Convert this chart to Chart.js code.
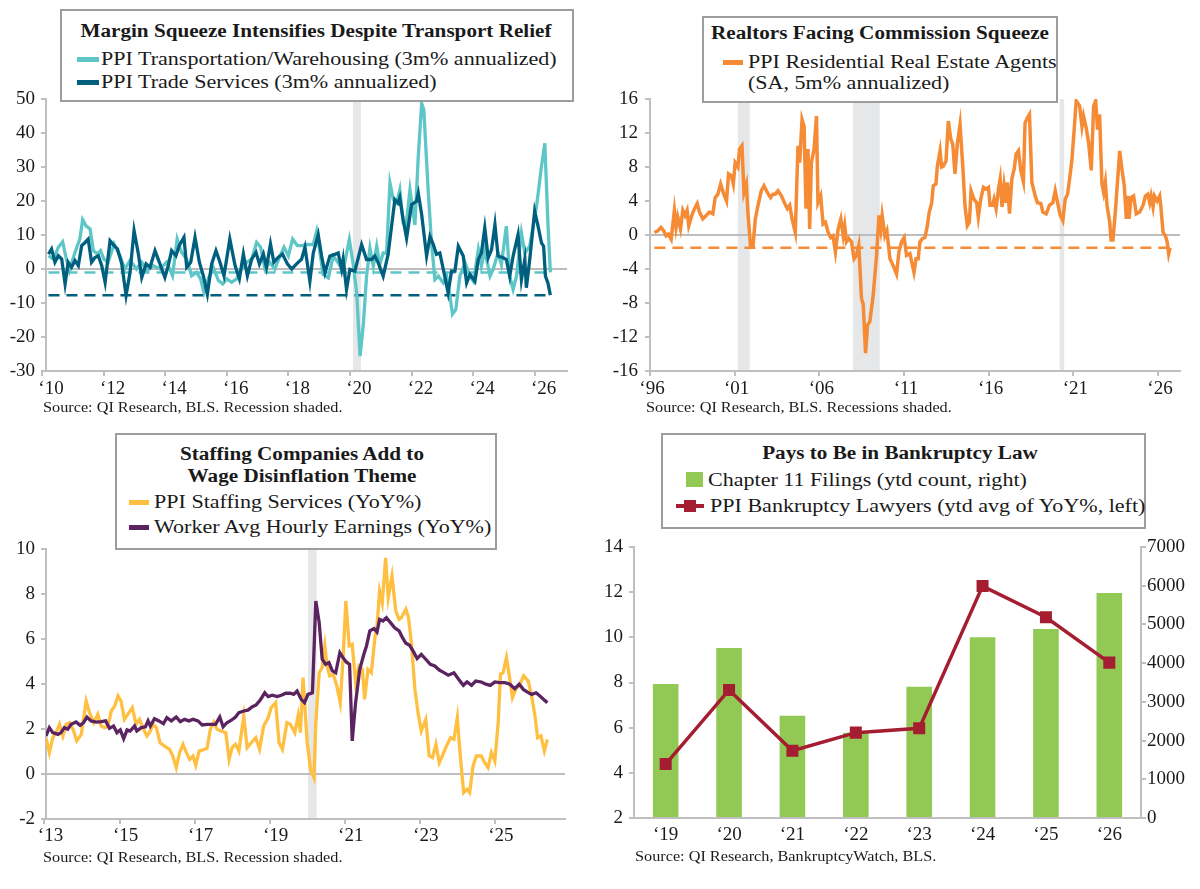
<!doctype html>
<html>
<head>
<meta charset="utf-8">
<title>PPI margin squeeze panels</title>
<script src="https://cdn.jsdelivr.net/npm/chart.js@4.4.1/dist/chart.umd.min.js"></script>
<style>
  body { margin: 0; background: #fff; }
  #page { position: relative; width: 1200px; height: 889px; overflow: hidden; background: #fff;
          font-family: "Liberation Serif", "Times New Roman", serif; color: #1a1a1a; }
  canvas { position: absolute; }
  .box { position: absolute; background: #fff; border: 2px solid #9d9d9d; box-sizing: border-box; }
  .t { position: absolute; white-space: nowrap; line-height: 1; font-size: 19.7px;
       transform-origin: left center; transform: translateY(-50%) scaleX(1.12); }
  .t.c { transform-origin: center center; transform: translate(-50%, -50%) scaleX(1.12); }
  .t.b { font-weight: bold; font-size: 18.9px; }
  .t.s { font-size: 14.5px; }
  .sw { position: absolute; }
</style>
</head>
<body>
<div id="page">
  <canvas id="c1" width="600" height="400" style="left:0;top:0"></canvas>
  <canvas id="c2" width="600" height="400" style="left:600px;top:0"></canvas>
  <canvas id="c3" width="600" height="430" style="left:0;top:430px"></canvas>
  <canvas id="c4" width="600" height="430" style="left:600px;top:430px"></canvas>

  <!-- panel 1 -->
  <div class="box" style="left:60px;top:9px;width:514px;height:93px"></div>
  <div class="t c b" style="left:316px;top:31px">Margin Squeeze Intensifies Despite Transport Relief</div>
  <div class="sw" style="left:77px;top:57px;width:22px;height:5px;background:#5ec6c7"></div>
  <div class="t" style="left:101px;top:59px">PPI Transportation/Warehousing (3m% annualized)</div>
  <div class="sw" style="left:77px;top:80px;width:22px;height:5px;background:#005f7e"></div>
  <div class="t" style="left:101px;top:82px">PPI Trade Services (3m% annualized)</div>
  <div class="t s" style="left:43px;top:407px">Source: QI Research, BLS. Recession shaded.</div>

  <!-- panel 2 -->
  <div class="box" style="left:702px;top:16px;width:356px;height:87px"></div>
  <div class="t c b" style="left:880px;top:33px">Realtors Facing Commission Squeeze</div>
  <div class="sw" style="left:723px;top:60px;width:20px;height:5px;background:#f68b35"></div>
  <div class="t" style="left:748px;top:62px">PPI Residential Real Estate Agents</div>
  <div class="t" style="left:748px;top:83px">(SA, 5m% annualized)</div>
  <div class="t s" style="left:646px;top:407px">Source: QI Research, BLS. Recessions shaded.</div>

  <!-- panel 3 -->
  <div class="box" style="left:115px;top:433px;width:382px;height:117px"></div>
  <div class="t c b" style="left:302px;top:454px">Staffing Companies Add to</div>
  <div class="t c b" style="left:302px;top:476px">Wage Disinflation Theme</div>
  <div class="sw" style="left:129px;top:500px;width:20px;height:5px;background:#ffbf40"></div>
  <div class="t" style="left:154px;top:502px">PPI Staffing Services (YoY%)</div>
  <div class="sw" style="left:129px;top:525px;width:20px;height:5px;background:#5b2461"></div>
  <div class="t" style="left:154px;top:527px">Worker Avg Hourly Earnings (YoY%)</div>
  <div class="t s" style="left:43px;top:857px">Source: QI Research, BLS. Recession shaded.</div>

  <!-- panel 4 -->
  <div class="box" style="left:661px;top:433px;width:485px;height:96px"></div>
  <div class="t c b" style="left:900px;top:453px">Pays to Be in Bankruptcy Law</div>
  <div class="sw" style="left:686px;top:472px;width:17px;height:15px;background:#92c955"></div>
  <div class="t" style="left:708px;top:480px">Chapter 11 Filings (ytd count, right)</div>
  <div class="sw" style="left:676px;top:504px;width:28px;height:4px;background:#a51d31"></div>
  <div class="sw" style="left:684px;top:500px;width:12px;height:12px;background:#a51d31"></div>
  <div class="t" style="left:710px;top:506px">PPI Bankruptcy Lawyers (ytd avg of YoY%, left)</div>
  <div class="t s" style="left:635px;top:856px">Source: QI Research, BankruptcyWatch, BLS.</div>
</div>

<script>
// ---- data: [decimal year, value] ----
var transportPpi = [[2010.21,3.9],[2010.37,2.9],[2010.53,6.4],[2010.67,8.0],[2010.78,3.4],[2010.89,-0.5],[2011.00,2.9],[2011.13,6.4],[2011.23,8.8],[2011.32,14.5],[2011.43,12.7],[2011.56,11.8],[2011.67,5.4],[2011.80,4.4],[2011.90,5.4],[2012.01,2.9],[2012.15,2.0],[2012.34,7.4],[2012.53,3.9],[2012.69,0],[2012.86,2.5],[2013.07,0],[2013.24,2.0],[2013.40,-0.5],[2013.61,1.0],[2013.83,0],[2014.05,2.0],[2014.24,-2.0],[2014.39,8.8],[2014.53,4.9],[2014.70,2.9],[2014.86,-2.0],[2015.02,-1.0],[2015.15,-2.9],[2015.26,-6.9],[2015.40,-2.9],[2015.56,0.5],[2015.73,-3.4],[2015.87,-4.4],[2016.00,-2.9],[2016.16,-3.9],[2016.32,-2.9],[2016.48,0],[2016.65,2.0],[2016.81,2.9],[2016.97,7.8],[2017.10,6.4],[2017.24,0],[2017.40,2.0],[2017.56,0],[2017.71,3.4],[2017.86,6.4],[2018.00,3.9],[2018.14,8.8],[2018.29,6.9],[2018.43,6.9],[2018.59,7.2],[2018.81,7.2],[2018.92,11.1],[2019.03,4.7],[2019.13,-1.6],[2019.30,-2.6],[2019.46,3.8],[2019.62,1.8],[2019.78,-0.6],[2019.98,8.7],[2020.10,1.8],[2020.22,-7.0],[2020.33,-25.6],[2020.44,-15.8],[2020.54,-2.1],[2020.65,6.2],[2020.76,0.8],[2020.87,6.7],[2020.97,1.3],[2021.08,4.7],[2021.19,4.7],[2021.30,25.3],[2021.41,20.4],[2021.52,19.4],[2021.62,23.3],[2021.73,13.5],[2021.82,12.5],[2021.95,23.3],[2022.11,13.0],[2022.22,33.1],[2022.33,48.7],[2022.40,46.8],[2022.54,23.3],[2022.65,7.7],[2022.76,-3.1],[2022.87,-2.1],[2023.03,-4.1],[2023.14,-2.1],[2023.25,-8.0],[2023.33,-13.3],[2023.44,-11.9],[2023.57,-2.1],[2023.74,1.8],[2023.90,-2.1],[2024.01,-3.6],[2024.17,5.7],[2024.27,0.8],[2024.38,5.7],[2024.55,-2.1],[2024.65,-0.1],[2024.81,4.7],[2024.92,1.3],[2025.08,12.6],[2025.19,-2.1],[2025.30,-6.0],[2025.41,-2.1],[2025.57,10.6],[2025.68,4.7],[2025.84,6.7],[2026.06,18.4],[2026.22,30.1],[2026.33,37.0],[2026.43,13.5],[2026.51,-1.0]];

var tradePpi = [[2010.21,4.4],[2010.31,5.9],[2010.42,2.0],[2010.53,3.9],[2010.64,2.9],[2010.75,-4.4],[2010.85,2.0],[2010.96,0.5],[2011.07,2.5],[2011.18,1.0],[2011.29,6.9],[2011.40,7.8],[2011.50,8.8],[2011.61,2.0],[2011.72,3.4],[2011.83,3.9],[2011.94,1.0],[2012.05,-3.9],[2012.21,8.3],[2012.34,6.9],[2012.45,5.9],[2012.59,1.5],[2012.73,-7.8],[2012.86,-1.0],[2012.99,11.3],[2013.13,4.4],[2013.24,-2.5],[2013.38,1.5],[2013.51,0.5],[2013.67,5.4],[2013.83,1.5],[2013.99,-2.5],[2014.10,1.0],[2014.21,5.4],[2014.35,3.9],[2014.46,6.9],[2014.61,9.3],[2014.70,0.5],[2014.83,2.0],[2014.97,9.3],[2015.11,2.0],[2015.24,-2.0],[2015.37,-7.4],[2015.51,1.5],[2015.65,5.4],[2015.78,2.0],[2015.91,-2.0],[2016.10,8.8],[2016.27,1.0],[2016.41,-2.9],[2016.54,4.4],[2016.67,-2.0],[2016.81,2.9],[2016.95,4.9],[2017.06,1.5],[2017.19,4.4],[2017.29,0.5],[2017.42,7.4],[2017.53,2.0],[2017.67,3.4],[2017.81,4.4],[2017.97,1.5],[2018.11,0],[2018.27,1.5],[2018.43,2.9],[2018.54,6.4],[2018.70,-3.6],[2018.81,4.7],[2018.97,10.1],[2019.08,3.8],[2019.19,-1.1],[2019.35,3.8],[2019.51,4.3],[2019.62,4.7],[2019.73,-0.1],[2019.78,2.8],[2019.89,-6.0],[2020.00,-0.1],[2020.16,-0.6],[2020.38,7.2],[2020.54,2.8],[2020.70,2.8],[2020.81,3.8],[2020.92,1.8],[2021.08,-2.1],[2021.24,4.3],[2021.46,20.4],[2021.57,19.4],[2021.62,20.9],[2021.73,14.5],[2021.84,9.1],[2022.00,18.9],[2022.16,19.9],[2022.22,22.3],[2022.33,16.0],[2022.49,3.8],[2022.60,9.6],[2022.71,7.2],[2022.81,4.3],[2022.92,4.7],[2023.08,-2.1],[2023.19,-7.0],[2023.30,-0.6],[2023.41,-0.6],[2023.52,6.7],[2023.68,3.8],[2023.79,-4.1],[2023.90,-1.6],[2024.06,-3.6],[2024.17,2.8],[2024.27,4.7],[2024.38,12.1],[2024.49,3.3],[2024.60,5.7],[2024.71,13.1],[2024.81,3.8],[2024.98,3.3],[2025.08,2.8],[2025.19,-2.1],[2025.30,3.8],[2025.46,10.1],[2025.57,-3.1],[2025.68,2.8],[2025.73,-5.5],[2025.84,2.8],[2026.00,17.0],[2026.11,12.6],[2026.22,7.7],[2026.29,6.7],[2026.35,-2.1],[2026.43,-4.1],[2026.51,-7.7]];

var realtorPpi = [[1996.26,0.3],[1996.46,0.5],[1996.65,0.9],[1996.81,0.5],[1996.95,-0.1],[1997.09,0.1],[1997.25,-0.5],[1997.44,2.9],[1997.54,0.9],[1997.64,2.1],[1997.80,0.7],[1997.94,2.9],[1998.07,2.3],[1998.19,2.9],[1998.29,1.1],[1998.47,2.3],[1998.63,3.1],[1998.79,3.7],[1998.92,2.7],[1999.12,1.9],[1999.32,2.3],[1999.51,2.7],[1999.71,2.5],[1999.85,4.4],[2000.01,4.8],[2000.17,6.0],[2000.36,4.8],[2000.52,4.0],[2000.64,7.2],[2000.80,7.0],[2000.92,6.0],[2001.03,8.5],[2001.19,8.0],[2001.29,10.1],[2001.43,10.5],[2001.55,5.0],[2001.69,6.0],[2001.78,2.7],[2001.94,-1.4],[2002.08,-1.4],[2002.22,1.9],[2002.38,3.5],[2002.57,5.2],[2002.73,5.8],[2002.93,5.0],[2003.12,4.4],[2003.26,4.8],[2003.40,4.8],[2003.56,5.2],[2003.76,4.6],[2003.96,3.7],[2004.11,3.1],[2004.25,3.5],[2004.39,1.9],[2004.58,0.3],[2004.74,10.5],[2004.84,8.5],[2004.98,13.6],[2005.10,12.8],[2005.21,3.1],[2005.33,10.1],[2005.43,0.7],[2005.53,8.5],[2005.69,10.1],[2005.83,14.0],[2005.92,3.8],[2006.08,4.6],[2006.22,1.3],[2006.36,1.5],[2006.52,0.3],[2006.67,-0.3],[2006.81,-0.1],[2006.95,-2.0],[2007.11,0.7],[2007.27,1.9],[2007.41,-0.1],[2007.50,1.1],[2007.60,-0.8],[2007.74,-0.4],[2007.90,-0.8],[2008.05,-2.8],[2008.19,-2.4],[2008.33,-1.2],[2008.49,-7.5],[2008.59,-8.1],[2008.73,-13.9],[2008.85,-10.6],[2008.98,-10.2],[2009.18,-7.1],[2009.38,-2.4],[2009.52,2.3],[2009.63,0.7],[2009.71,2.3],[2009.87,-0.1],[2009.99,0.5],[2010.17,-2.8],[2010.36,-3.6],[2010.56,-4.6],[2010.70,-2.0],[2010.86,-0.8],[2011.01,-0.3],[2011.15,-2.4],[2011.35,-2.2],[2011.59,-4.4],[2011.71,-2.8],[2011.84,-2.8],[2011.94,-0.8],[2012.10,-0.4],[2012.24,-0.3],[2012.38,1.1],[2012.49,2.7],[2012.63,3.7],[2012.73,5.8],[2012.89,6.0],[2012.97,8.1],[2013.13,9.9],[2013.22,8.0],[2013.32,8.1],[2013.48,8.7],[2013.62,13.4],[2013.76,11.3],[2013.88,10.7],[2014.01,7.2],[2014.15,10.7],[2014.31,13.0],[2014.47,8.1],[2014.60,3.5],[2014.74,1.1],[2014.86,1.5],[2014.96,5.2],[2015.14,4.2],[2015.29,3.8],[2015.39,2.1],[2015.53,4.2],[2015.69,5.6],[2015.85,5.4],[2015.99,5.6],[2016.08,3.5],[2016.24,3.5],[2016.32,4.2],[2016.44,3.1],[2016.58,5.4],[2016.68,6.6],[2016.79,3.3],[2016.91,5.8],[2017.03,3.8],[2017.11,6.2],[2017.23,2.5],[2017.37,6.6],[2017.51,7.8],[2017.62,9.5],[2017.76,9.9],[2017.90,7.6],[2018.05,6.3],[2018.15,13.2],[2018.29,13.8],[2018.41,14.2],[2018.55,6.2],[2018.75,4.6],[2018.88,3.8],[2019.08,3.7],[2019.20,2.7],[2019.40,2.5],[2019.59,3.5],[2019.79,3.8],[2019.93,5.2],[2020.07,3.8],[2020.23,2.3],[2020.38,1.7],[2020.52,4.2],[2020.66,4.8],[2020.78,6.6],[2020.92,8.9],[2021.05,12.4],[2021.17,15.8],[2021.37,15.2],[2021.51,12.8],[2021.60,14.0],[2021.76,12.6],[2021.90,10.9],[2022.06,7.6],[2022.20,15.2],[2022.32,15.8],[2022.43,12.4],[2022.55,14.2],[2022.69,6.0],[2022.79,5.0],[2022.89,6.2],[2022.99,3.5],[2023.15,1.5],[2023.23,-0.6],[2023.34,-0.6],[2023.48,2.7],[2023.62,6.6],[2023.74,9.9],[2023.88,7.6],[2024.01,5.8],[2024.13,1.9],[2024.21,4.6],[2024.29,1.9],[2024.41,4.4],[2024.56,4.6],[2024.72,2.5],[2024.92,2.7],[2025.12,3.5],[2025.26,4.6],[2025.39,4.8],[2025.51,3.8],[2025.59,4.6],[2025.71,3.3],[2025.79,4.6],[2025.95,4.0],[2026.10,4.6],[2026.18,3.1],[2026.30,0.3],[2026.44,-0.1],[2026.54,-0.8],[2026.63,-2.2],[2026.71,-1.5]];

var staffingPpi = [[2013.04,1.61],[2013.13,0.95],[2013.22,1.61],[2013.31,1.84],[2013.40,2.21],[2013.49,1.69],[2013.58,2.21],[2013.67,2.28],[2013.76,1.99],[2013.86,1.47],[2013.98,1.76],[2014.11,3.24],[2014.20,2.73],[2014.31,2.28],[2014.42,2.65],[2014.51,2.13],[2014.60,2.06],[2014.69,2.13],[2014.78,2.80],[2014.87,3.02],[2014.96,3.47],[2015.04,3.24],[2015.13,2.43],[2015.22,2.65],[2015.34,2.95],[2015.44,2.21],[2015.53,2.43],[2015.64,1.99],[2015.73,1.69],[2015.82,1.91],[2015.89,2.21],[2015.98,2.06],[2016.08,1.39],[2016.20,1.24],[2016.33,1.10],[2016.42,0.80],[2016.51,0.28],[2016.60,0.95],[2016.69,1.32],[2016.78,0.95],[2016.87,0.65],[2016.96,0.80],[2017.03,0.39],[2017.12,1.02],[2017.22,1.07],[2017.33,1.13],[2017.42,1.99],[2017.51,2.31],[2017.60,1.99],[2017.71,1.91],[2017.83,1.84],[2017.92,0.65],[2018.00,1.17],[2018.09,1.32],[2018.18,1.02],[2018.31,2.58],[2018.40,1.17],[2018.51,1.39],[2018.63,1.61],[2018.73,1.10],[2018.84,2.13],[2018.96,2.50],[2019.04,2.95],[2019.16,3.17],[2019.25,1.39],[2019.34,1.10],[2019.46,2.28],[2019.55,2.21],[2019.67,1.84],[2019.76,2.61],[2019.82,1.84],[2019.89,4.28],[2020.00,1.39],[2020.09,0.21],[2020.18,-0.16],[2020.23,2.28],[2020.32,4.50],[2020.40,4.73],[2020.47,5.69],[2020.53,4.80],[2020.60,4.36],[2020.69,4.43],[2020.78,3.99],[2020.88,3.17],[2020.96,5.24],[2021.03,7.69],[2021.12,5.69],[2021.20,5.76],[2021.29,4.06],[2021.38,4.80],[2021.47,4.65],[2021.53,3.32],[2021.62,4.65],[2021.71,4.50],[2021.80,5.99],[2021.86,6.58],[2021.93,8.13],[2022.00,7.61],[2022.09,9.61],[2022.16,7.84],[2022.26,8.80],[2022.36,7.24],[2022.45,6.87],[2022.51,6.95],[2022.63,7.32],[2022.70,6.95],[2022.78,5.76],[2022.87,3.76],[2022.96,2.65],[2023.04,1.91],[2023.16,2.43],[2023.25,0.80],[2023.34,0.73],[2023.43,1.32],[2023.52,0.50],[2023.60,0.80],[2023.71,1.24],[2023.82,1.61],[2023.91,1.54],[2024.00,2.50],[2024.08,0.80],[2024.17,-0.83],[2024.26,-0.68],[2024.33,-0.83],[2024.42,0.36],[2024.51,0.80],[2024.64,0.80],[2024.73,0.50],[2024.82,0.28],[2024.91,0.95],[2025.00,0.58],[2025.09,2.28],[2025.15,4.43],[2025.22,4.50],[2025.31,5.17],[2025.38,4.43],[2025.47,3.39],[2025.56,3.76],[2025.67,3.99],[2025.77,4.36],[2025.89,4.13],[2025.98,3.47],[2026.07,2.58],[2026.14,1.61],[2026.23,1.69],[2026.32,1.02],[2026.40,1.54]];

var hourlyEarnings = [[2013.04,1.69],[2013.13,2.06],[2013.22,1.84],[2013.36,1.76],[2013.44,1.84],[2013.53,2.06],[2013.62,1.99],[2013.71,2.21],[2013.84,2.31],[2013.95,2.16],[2014.04,2.28],[2014.13,2.53],[2014.24,2.36],[2014.38,2.31],[2014.51,2.33],[2014.63,2.36],[2014.73,2.03],[2014.84,2.13],[2014.93,1.84],[2015.02,1.96],[2015.11,1.57],[2015.20,1.96],[2015.28,1.91],[2015.40,2.13],[2015.46,1.91],[2015.58,2.06],[2015.69,2.10],[2015.76,2.36],[2015.82,2.13],[2015.93,2.46],[2016.05,2.36],[2016.17,2.24],[2016.26,2.50],[2016.38,2.36],[2016.51,2.53],[2016.62,2.33],[2016.73,2.43],[2016.85,2.36],[2016.96,2.43],[2017.09,2.36],[2017.20,2.18],[2017.33,2.21],[2017.44,2.21],[2017.56,2.21],[2017.67,2.53],[2017.76,2.10],[2017.86,2.28],[2017.98,2.39],[2018.09,2.53],[2018.18,2.73],[2018.31,2.80],[2018.42,2.84],[2018.54,2.99],[2018.64,3.07],[2018.75,3.29],[2018.87,3.61],[2018.96,3.44],[2019.07,3.50],[2019.20,3.44],[2019.31,3.50],[2019.43,3.59],[2019.55,3.59],[2019.64,3.54],[2019.73,3.69],[2019.84,3.32],[2019.93,3.17],[2020.02,3.54],[2020.14,3.61],[2020.23,7.69],[2020.32,6.73],[2020.40,5.10],[2020.49,4.87],[2020.58,4.95],[2020.67,4.58],[2020.76,4.50],[2020.87,5.39],[2020.96,5.16],[2021.04,4.98],[2021.13,4.87],[2021.20,1.47],[2021.29,3.17],[2021.40,4.65],[2021.51,5.32],[2021.58,5.69],[2021.67,6.36],[2021.78,6.46],[2021.86,6.31],[2021.93,6.87],[2022.02,6.80],[2022.11,6.95],[2022.22,6.73],[2022.33,6.50],[2022.45,6.36],[2022.54,6.06],[2022.63,5.81],[2022.73,5.72],[2022.82,5.47],[2022.93,5.13],[2023.04,5.32],[2023.16,5.10],[2023.28,4.87],[2023.40,4.80],[2023.52,4.62],[2023.62,4.53],[2023.76,4.39],[2023.91,4.50],[2024.05,4.18],[2024.16,3.94],[2024.26,4.09],[2024.38,3.94],[2024.49,4.13],[2024.64,4.09],[2024.76,3.99],[2024.88,3.94],[2025.00,4.09],[2025.13,4.06],[2025.27,4.06],[2025.40,3.99],[2025.53,3.79],[2025.65,3.99],[2025.76,3.76],[2025.87,3.64],[2025.98,3.54],[2026.10,3.61],[2026.20,3.47],[2026.40,3.17]];

var filingYears = [2019, 2020, 2021, 2022, 2023, 2024, 2025, 2026];
var ch11Filings = [3460, 4390, 2640, 2200, 3390, 4670, 4880, 5810];
var lawyerPpi = [4.39, 7.67, 4.98, 5.78, 5.97, 12.27, 10.89, 8.88];

// recession bands [start, end]
var recession1 = [[2020.10, 2020.36]];
var recession2 = [[2001.19, 2001.89], [2007.99, 2009.57], [2020.19, 2020.46]];
var recession3 = [[2020.02, 2020.25]];

// tick labels (years)
var ticks1 = [2010, 2012, 2014, 2016, 2018, 2020, 2022, 2024, 2026];
var ticks2 = [1996, 2001, 2006, 2011, 2016, 2021, 2026];
var ticks3 = [2013, 2015, 2017, 2019, 2021, 2023, 2025];

var AXIS = '#bfbfbf';
var INK = '#1a1a1a';
Chart.defaults.font.family = '"Liberation Serif", "Times New Roman", serif';
Chart.defaults.color = INK;
Chart.defaults.animation = false;
Chart.defaults.responsive = false;
Chart.defaults.plugins.legend.display = false;
Chart.defaults.plugins.tooltip.enabled = false;

function pts(arr) { return arr.map(function (p) { return {x: p[0], y: p[1]}; }); }
function lastLine(arr) {
    var v = arr[arr.length - 1][1];
    return [{x: arr[0][0], y: v}, {x: arr[arr.length - 1][0], y: v}];
}

// recession shading + zero line under the series
var backdrop = {
    id: 'backdrop',
    beforeDatasetsDraw: function (chart, args, opts) {
        var ctx = chart.ctx, a = chart.chartArea, x = chart.scales.x, y = chart.scales.y;
        ctx.save();
        ctx.fillStyle = '#e6e7e9';
        (opts.bands || []).forEach(function (b) {
            var x0 = x.getPixelForValue(b[0]), x1 = x.getPixelForValue(b[1]);
            ctx.fillRect(x0, a.top, x1 - x0, a.bottom - a.top - 1);
        });
        if (opts.zero) {
            var py = Math.round(y.getPixelForValue(0));
            ctx.strokeStyle = '#bdbdbd';
            ctx.lineWidth = 2;
            ctx.beginPath(); ctx.moveTo(a.left, py); ctx.lineTo(a.right, py); ctx.stroke();
        }
        ctx.restore();
    }
};

function gridOpts(show) {
    return { drawOnChartArea: false, drawTicks: true, tickLength: 5, lineWidth: 2,
             color: show === false ? 'rgba(0,0,0,0)' : AXIS };
}

function yAxis(min, max, step, width, pad, pos) {
    return {
        position: pos || 'left', min: min, max: max,
        ticks: { stepSize: step, padding: pad, font: {size: 19}, color: INK,
                 callback: function (v) { return String(v); } },
        grid: gridOpts(), border: { color: AXIS, width: 2 },
        afterFit: function (s) { s.width = width; }
    };
}

function xYears(min, max, tickList, height, pad, offset) {
    return {
        type: 'linear', min: min, max: max,
        afterBuildTicks: function (s) { s.ticks = tickList.map(function (v) { return {value: v}; }); },
        ticks: { padding: pad, labelOffset: offset, autoSkip: false, maxRotation: 0, font: {size: 19}, color: INK,
                 callback: function (v) { return '\u2018' + String(v).slice(2); } },
        grid: gridOpts(), border: { color: AXIS, width: 2 },
        afterFit: function (s) { s.height = height; }
    };
}

function series(data, color, width) {
    return { data: pts(data), borderColor: color, borderWidth: width || 3.3, pointRadius: 0, tension: 0, fill: false };
}
function dashed(data, color) {
    return { data: lastLine(data), borderColor: color, borderWidth: 2.5, borderDash: [11, 7], pointRadius: 0, fill: false };
}

// panel 1
new Chart(document.getElementById('c1'), {
    type: 'line',
    data: { datasets: [
        series(tradePpi, '#005f7e'),
        series(transportPpi, '#5ec6c7'),
        dashed(tradePpi, '#005f7e'),
        dashed(transportPpi, '#5ec6c7')
    ]},
    options: {
        layout: { padding: { left: 0, top: 99, right: 33, bottom: 0 } },
        scales: { x: xYears(2010.13, 2027.05, ticks1, 29, 2, 9), y: yAxis(-30, 50, 10, 46, 6) },
        plugins: { backdrop: { bands: recession1, zero: true } }
    },
    plugins: [backdrop]
});

// panel 2
new Chart(document.getElementById('c2'), {
    type: 'line',
    data: { datasets: [
        series(realtorPpi, '#f68b35', 3.5),
        dashed(realtorPpi, '#f68b35')
    ]},
    options: {
        layout: { padding: { left: 0, top: 99, right: 20, bottom: 0 } },
        scales: { x: xYears(1996, 2027.3, ticks2, 29, 2, 2), y: yAxis(-16, 16, 4, 50, 7) },
        plugins: { backdrop: { bands: recession2, zero: true } }
    },
    plugins: [backdrop]
});

// panel 3
new Chart(document.getElementById('c3'), {
    type: 'line',
    data: { datasets: [
        series(hourlyEarnings, '#5b2461'),
        series(staffingPpi, '#ffbf40')
    ]},
    options: {
        layout: { padding: { left: 0, top: 119, right: 35, bottom: 0 } },
        scales: { x: xYears(2013.04, 2026.87, ticks3, 41, 1, 6), y: yAxis(-2, 10, 2, 46, 6) },
        plugins: { backdrop: { bands: recession3, zero: true } }
    },
    plugins: [backdrop]
});

// panel 4
new Chart(document.getElementById('c4'), {
    type: 'bar',
    data: {
        labels: filingYears,
        datasets: [
            { type: 'line', data: lawyerPpi, yAxisID: 'y', borderColor: '#a51d31', backgroundColor: '#a51d31',
              borderWidth: 3.5, pointStyle: 'rect', pointRadius: 8.5, pointBorderWidth: 0, tension: 0, order: 0 },
            { type: 'bar', data: ch11Filings, yAxisID: 'y2', backgroundColor: '#92c955',
              barPercentage: 0.404, categoryPercentage: 1, order: 1 }
        ]
    },
    options: {
        layout: { padding: { left: 0, top: 117, right: 0, bottom: 0 } },
        scales: {
            x: { type: 'category', offset: true,
                 ticks: { padding: 1, font: {size: 19}, color: INK, autoSkip: false, maxRotation: 0,
                          callback: function (v, i) { return '\u2018' + String(filingYears[i]).slice(2); } },
                 grid: gridOpts(false), border: { color: AXIS, width: 2 },
                 afterFit: function (s) { s.height = 42; } },
            y: yAxis(2, 14, 2, 34, 6),
            y2: yAxis(0, 7000, 1000, 59, 1, 'right')
        }
    }
});
</script>
</body>
</html>
